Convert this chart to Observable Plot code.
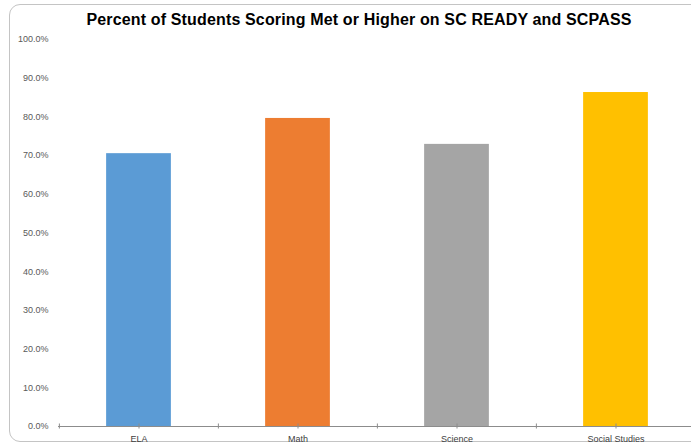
<!DOCTYPE html>
<html>
<head>
<meta charset="utf-8">
<script src="https://cdn.jsdelivr.net/npm/d3@7"></script>
<script src="https://cdn.jsdelivr.net/npm/@observablehq/plot@0.6"></script>
<style>
  html, body { margin: 0; padding: 0; background: #fff; }
  #wrap { position: relative; width: 691px; height: 445px; overflow: hidden; background: #fff; }
  #frame { position: absolute; left: 9px; top: 4px; width: 720px; height: 438px; border: 1.5px solid #c4c4c4; border-radius: 11px; box-sizing: border-box; }
  #title { position: absolute; left: 0; top: 0; width: 718px; height: 30px; line-height: 30px; padding-top: 5px; box-sizing: border-box; text-align: center; font-family: "Liberation Sans", Arial, sans-serif; font-weight: bold; font-size: 16px; letter-spacing: 0.15px; color: #000; white-space: nowrap; }
  #plot { position: absolute; left: 0; top: 30px; }
</style>
</head>
<body>
<div id="wrap">
  <div id="frame"></div>
  <div id="title">Percent of Students Scoring Met or Higher on SC READY and SCPASS</div>
  <div id="plot"></div>
</div>
<script>
const subjects = ["ELA", "Math", "Science", "Social Studies"];
const values = [0.705, 0.796, 0.729, 0.863];
const colors = ["#5b9bd5", "#ed7d31", "#a5a5a5", "#ffc000"];
const yTicks = [0, 0.1, 0.2, 0.3, 0.4, 0.5, 0.6, 0.7, 0.8, 0.9, 1.0];

const data = subjects.map((s, i) => ({subject: s, value: values[i]}));

const W = 691, H = 415;
const xRange = [58, 695];
const bw = (xRange[1] - xRange[0]) / subjects.length;
const barW = 65;
const axisColor = "#8c8c8c";
const font = "'Liberation Sans', Arial, sans-serif";

const chart = Plot.plot({
  width: W,
  height: H,
  marginTop: 9,
  marginBottom: 19,
  marginLeft: 58,
  marginRight: 0,
  style: {fontFamily: font, fontSize: "9px", color: "#595959", background: "transparent"},
  x: {type: "band", domain: subjects, range: xRange, padding: 0},
  y: {domain: [0, 1]},
  color: {domain: subjects, range: colors},
  marks: [
    Plot.barY(data, {x: "subject", y: "value", fill: "subject", insetLeft: (bw - barW) / 2, insetRight: (bw - barW) / 2}),
    Plot.ruleY([0], {stroke: axisColor, strokeWidth: 1.2}),
    Plot.ruleX(subjects, {x: d => d, y1: 0, y2: 0, insetTop: -2.5, insetBottom: -2.5, stroke: axisColor, strokeWidth: 1}),
    Plot.ruleX(subjects, {x: d => d, y1: 0, y2: 0, insetTop: -2.5, insetBottom: -2.5, dx: -bw / 2, stroke: axisColor, strokeWidth: 1}),
    Plot.axisY(yTicks, {tickSize: 0, tickPadding: 10, tickFormat: d3.format(".1%"), fill: "#595959", fontSize: 9, label: null}),
    Plot.axisX({tickSize: 0, tickPadding: 9, fill: "#404040", fontSize: 9, label: null})
  ]
});
document.getElementById("plot").appendChild(chart);
</script>
</body>
</html>
